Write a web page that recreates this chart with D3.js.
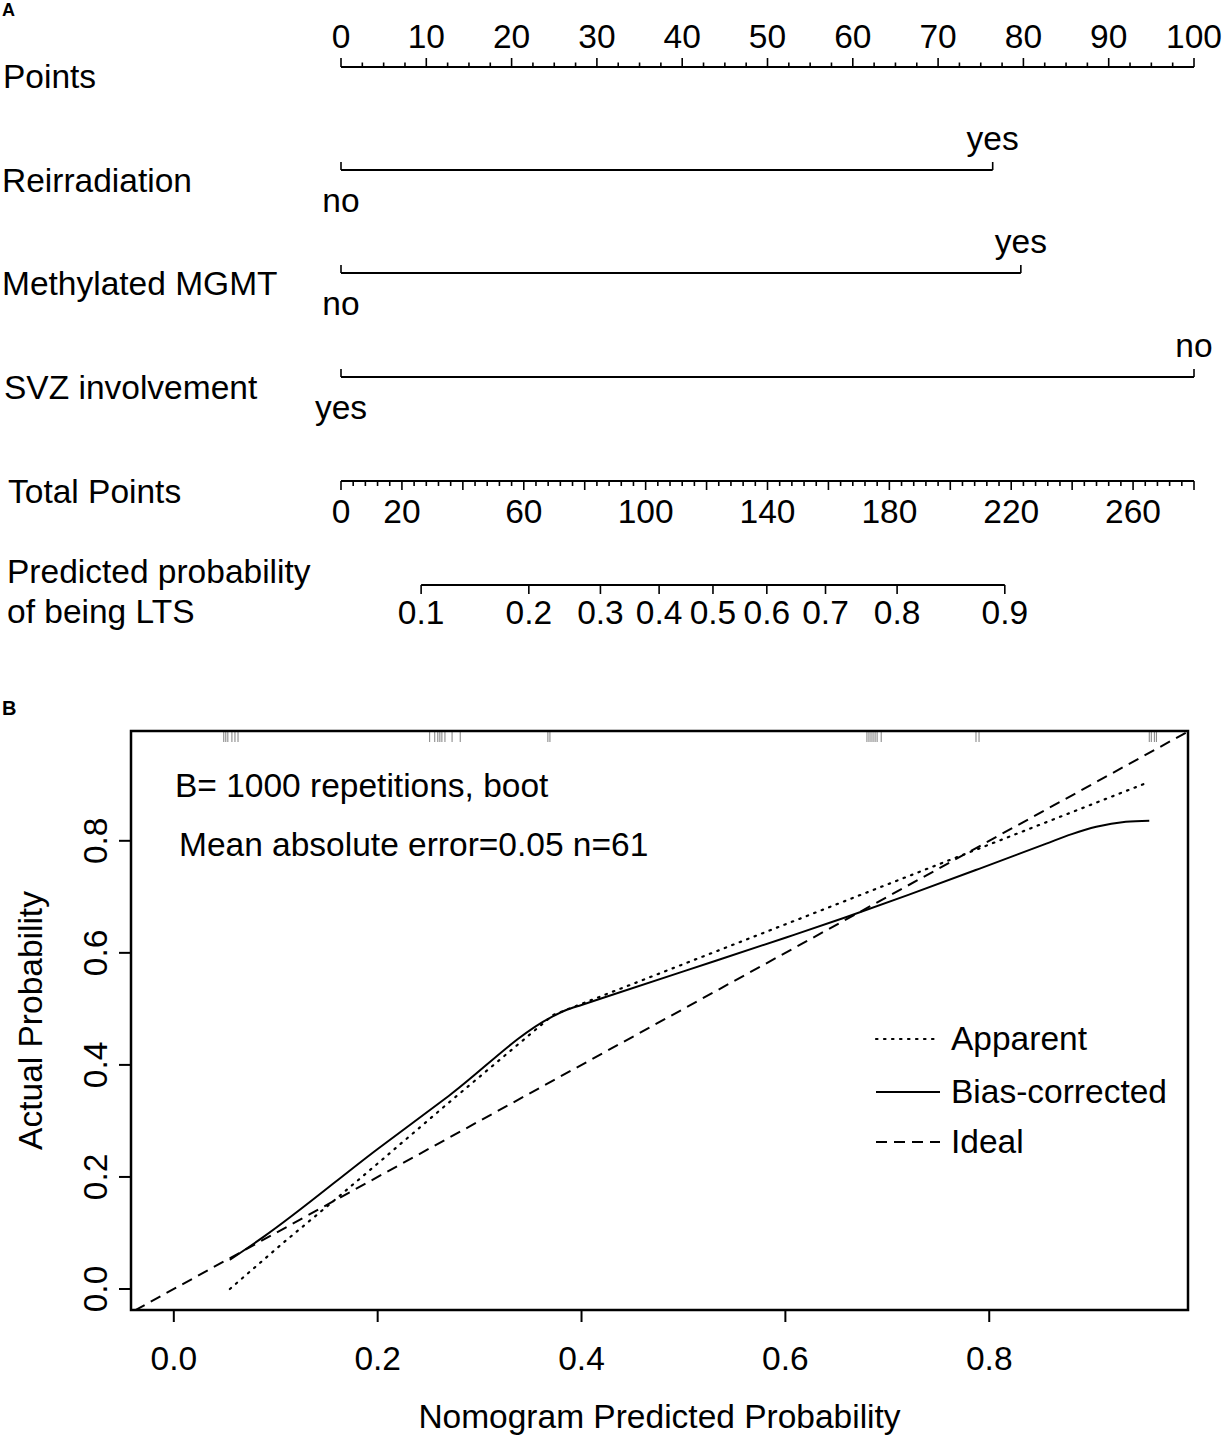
<!DOCTYPE html>
<html>
<head>
<meta charset="utf-8">
<script src="https://cdn.jsdelivr.net/npm/d3@7"></script>
<style>
  body { margin: 0; background: #fff; }
  svg text { font-family: "Liberation Sans", Arial, Helvetica, sans-serif; fill: #000; }
</style>
</head>
<body>
<div id="chart"></div>
<script>
/*** DATA - panel A (nomogram) ***/
var predictors = ["Reirradiation", "Methylated MGMT", "SVZ involvement"];
var levelZero = ["no", "no", "yes"];      // level that gets 0 points
var levelOther = ["yes", "yes", "no"];    // the other level
var levelPoints = [76.4, 79.7, 100];      // points of the other level

var pointsLabels = [0, 10, 20, 30, 40, 50, 60, 70, 80, 90, 100];
var totalLabels = [0, 20, 60, 100, 140, 180, 220, 260];
var totalMax = 280;
var probLabels = [0.1, 0.2, 0.3, 0.4, 0.5, 0.6, 0.7, 0.8, 0.9];
// total points where logit = 0, and points per logit unit
var lpCenter = 122.1;
var lpPerLogit = 43.6;

/*** DATA - panel B (calibration) ***/
var rugPred = [0.049, 0.051, 0.053, 0.057, 0.060, 0.063,
  0.251, 0.256, 0.259, 0.261, 0.263, 0.266, 0.273, 0.281,
  0.367, 0.369,
  0.680, 0.682, 0.684, 0.686, 0.688, 0.690, 0.694,
  0.787, 0.790,
  0.957, 0.959, 0.962, 0.964];

var apparentX = [0.055, 0.107, 0.156, 0.2, 0.27, 0.372, 0.61, 0.954];
var apparentY = [0.0, 0.082, 0.156, 0.224, 0.333, 0.489, 0.658, 0.903];

var biasX = [0.055, 0.088, 0.2, 0.27, 0.37, 0.385, 0.4, 0.5, 0.6, 0.66, 0.72, 0.79, 0.856, 0.881, 0.905, 0.934, 0.957];
var biasY = [0.052, 0.093, 0.25, 0.345, 0.485, 0.498, 0.507, 0.567, 0.627, 0.664, 0.703, 0.750, 0.795, 0.812, 0.825, 0.834, 0.836];

var calTicks = [0, 0.2, 0.4, 0.6, 0.8];
var legendNames = ["Apparent", "Bias-corrected", "Ideal"];
var legendDash = ["1.5,6.5", null, "11,7"];

var width = 1223;
var height = 1438;
var fs = 33.5;

var svg = d3.select('#chart').append('svg')
  .attr('width', width)
  .attr('height', height);

/******* PANEL A *******/
var ptsX = d3.scaleLinear().domain([0, 100]).range([341, 1194]);
var totX = d3.scaleLinear().domain([0, totalMax]).range([341, 1194]);
var logit = function (p) { return Math.log(p / (1 - p)); };
var probX = function (p) { return totX(lpCenter + lpPerLogit * logit(p)); };

var A = svg.append('g');

A.append('text').attr('x', 2).attr('y', 16)
  .style('font-size', '18px').style('font-weight', 'bold').text('A');

// Points axis (ticks up, labels above)
var pY = 67;
A.append('line').attr('x1', ptsX(0)).attr('x2', ptsX(100))
  .attr('y1', pY).attr('y2', pY).attr('stroke', '#000').attr('stroke-width', 2);
A.selectAll('line.pmin')
  .data(d3.range(0, 100.01, 2.5))
  .enter().append('line')
  .attr('class', 'pmin')
  .attr('x1', d => ptsX(d)).attr('x2', d => ptsX(d))
  .attr('y1', pY).attr('y2', d => (d % 10 === 0) ? pY - 9 : pY - 4.5)
  .attr('stroke', '#000').attr('stroke-width', 1.6);
A.selectAll('text.plab')
  .data(pointsLabels)
  .enter().append('text')
  .attr('class', 'plab')
  .attr('x', d => ptsX(d)).attr('y', 48)
  .attr('text-anchor', 'middle')
  .style('font-size', fs + 'px')
  .text(d => d);
A.append('text').attr('x', 3).attr('y', 88).style('font-size', fs + 'px').text('Points');

// predictor rows
var rowY = [170, 273, 377];
predictors.forEach(function (name, i) {
  var y = rowY[i];
  var x0 = ptsX(0), x1 = ptsX(levelPoints[i]);
  A.append('text').attr('x', i === 2 ? 4 : 2).attr('y', y + 22)
    .style('font-size', fs + 'px').text(name);
  A.append('line').attr('x1', x0).attr('x2', x1).attr('y1', y).attr('y2', y)
    .attr('stroke', '#000').attr('stroke-width', 2);
  [x0, x1].forEach(function (x) {
    A.append('line').attr('x1', x).attr('x2', x).attr('y1', y).attr('y2', y - 8)
      .attr('stroke', '#000').attr('stroke-width', 1.6);
  });
  A.append('text').attr('x', x1).attr('y', y - 20)
    .attr('text-anchor', 'middle').style('font-size', fs + 'px').text(levelOther[i]);
  A.append('text').attr('x', x0).attr('y', y + 42)
    .attr('text-anchor', 'middle').style('font-size', fs + 'px').text(levelZero[i]);
});

// Total points axis (ticks down, labels below)
var tY = 481;
A.append('line').attr('x1', totX(0)).attr('x2', totX(totalMax))
  .attr('y1', tY).attr('y2', tY).attr('stroke', '#000').attr('stroke-width', 2);
A.selectAll('line.tmin')
  .data(d3.range(0, totalMax + 0.01, 4))
  .enter().append('line')
  .attr('class', 'tmin')
  .attr('x1', d => totX(d)).attr('x2', d => totX(d))
  .attr('y1', tY).attr('y2', d => (d % 20 === 0) ? tY + 9 : tY + 5)
  .attr('stroke', '#000').attr('stroke-width', 1.6);
A.selectAll('text.tlab')
  .data(totalLabels)
  .enter().append('text')
  .attr('class', 'tlab')
  .attr('x', d => totX(d)).attr('y', 523)
  .attr('text-anchor', 'middle')
  .style('font-size', fs + 'px')
  .text(d => d);
A.append('text').attr('x', 8).attr('y', 503).style('font-size', fs + 'px').text('Total Points');

// predicted probability axis
var prY = 585;
A.append('line').attr('x1', probX(probLabels[0])).attr('x2', probX(probLabels[probLabels.length - 1]))
  .attr('y1', prY).attr('y2', prY).attr('stroke', '#000').attr('stroke-width', 2);
A.selectAll('line.prt')
  .data(probLabels)
  .enter().append('line')
  .attr('class', 'prt')
  .attr('x1', d => probX(d)).attr('x2', d => probX(d))
  .attr('y1', prY).attr('y2', prY + 9)
  .attr('stroke', '#000').attr('stroke-width', 1.6);
A.selectAll('text.prl')
  .data(probLabels)
  .enter().append('text')
  .attr('class', 'prl')
  .attr('x', d => probX(d)).attr('y', 624)
  .attr('text-anchor', 'middle')
  .style('font-size', fs + 'px')
  .text(d => d.toFixed(1));
A.append('text').attr('x', 7).attr('y', 583).style('font-size', fs + 'px').text('Predicted probability');
A.append('text').attr('x', 7).attr('y', 623).style('font-size', fs + 'px').text('of being LTS');

/******* PANEL B *******/
var B = svg.append('g');
B.append('text').attr('x', 2).attr('y', 715)
  .style('font-size', '20px').style('font-weight', 'bold').text('B');

var L = 131, R = 1188, T = 731, Bt = 1310;
var xS = d3.scaleLinear().domain([-0.042, 0.995]).range([L, R]);
var yS = d3.scaleLinear().domain([-0.0375, 0.996]).range([Bt, T]);

svg.append('defs').append('clipPath').attr('id', 'clip')
  .append('rect').attr('x', L).attr('y', T).attr('width', R - L).attr('height', Bt - T);

var plot = B.append('g').attr('clip-path', 'url(#clip)');

// rug of predicted values
plot.selectAll('line.rug')
  .data(rugPred)
  .enter().append('line')
  .attr('class', 'rug')
  .attr('x1', d => xS(d)).attr('x2', d => xS(d))
  .attr('y1', T).attr('y2', T + 11)
  .attr('stroke', '#808080').attr('stroke-width', 1);

var line = d3.line().x(d => xS(d[0])).y(d => yS(d[1]));

// ideal
plot.append('path')
  .attr('d', line([[-0.1, -0.1], [1.1, 1.1]]))
  .attr('fill', 'none').attr('stroke', '#000').attr('stroke-width', 2)
  .attr('stroke-dasharray', legendDash[2]);

// apparent
plot.append('path')
  .attr('d', line(d3.zip(apparentX, apparentY)))
  .attr('fill', 'none').attr('stroke', '#000').attr('stroke-width', 2.2)
  .attr('stroke-linecap', 'round')
  .attr('stroke-dasharray', legendDash[0]);

// bias-corrected
plot.append('path')
  .attr('d', d3.line().x(d => xS(d[0])).y(d => yS(d[1])).curve(d3.curveMonotoneX)(d3.zip(biasX, biasY)))
  .attr('fill', 'none').attr('stroke', '#000').attr('stroke-width', 2);

// box
B.append('rect').attr('x', L).attr('y', T).attr('width', R - L).attr('height', Bt - T)
  .attr('fill', 'none').attr('stroke', '#000').attr('stroke-width', 2.5);

// x axis
B.selectAll('line.xt')
  .data(calTicks)
  .enter().append('line')
  .attr('class', 'xt')
  .attr('x1', d => xS(d)).attr('x2', d => xS(d))
  .attr('y1', Bt).attr('y2', Bt + 12)
  .attr('stroke', '#000').attr('stroke-width', 2);
B.selectAll('text.xl')
  .data(calTicks)
  .enter().append('text')
  .attr('class', 'xl')
  .attr('x', d => xS(d)).attr('y', 1370)
  .attr('text-anchor', 'middle')
  .style('font-size', fs + 'px')
  .text(d => d.toFixed(1));

// y axis
B.selectAll('line.yt')
  .data(calTicks)
  .enter().append('line')
  .attr('class', 'yt')
  .attr('x1', L).attr('x2', L - 12)
  .attr('y1', d => yS(d)).attr('y2', d => yS(d))
  .attr('stroke', '#000').attr('stroke-width', 2);
B.selectAll('text.yl')
  .data(calTicks)
  .enter().append('text')
  .attr('class', 'yl')
  .attr('transform', d => 'translate(107,' + yS(d) + ') rotate(-90)')
  .attr('text-anchor', 'middle')
  .style('font-size', fs + 'px')
  .text(d => d.toFixed(1));

B.append('text')
  .attr('x', (L + R) / 2).attr('y', 1428)
  .attr('text-anchor', 'middle').style('font-size', fs + 'px')
  .text('Nomogram Predicted Probability');
B.append('text')
  .attr('transform', 'translate(42,' + ((T + Bt) / 2) + ') rotate(-90)')
  .attr('text-anchor', 'middle').style('font-size', fs + 'px')
  .text('Actual Probability');

B.append('text').attr('x', 175).attr('y', 797).style('font-size', fs + 'px')
  .text('B= 1000 repetitions, boot');
B.append('text').attr('x', 179).attr('y', 856).style('font-size', fs + 'px')
  .text('Mean absolute error=0.05 n=61');

// legend
var legY = [1039, 1092, 1142];
legendNames.forEach(function (nm, i) {
  var ln = B.append('line').attr('x1', 876).attr('x2', 940)
    .attr('y1', legY[i]).attr('y2', legY[i])
    .attr('stroke', '#000').attr('stroke-width', 2);
  if (legendDash[i]) ln.attr('stroke-dasharray', legendDash[i]);
  if (i === 0) ln.attr('stroke-linecap', 'round').attr('stroke-width', 2.2);
  B.append('text').attr('x', 951).attr('y', legY[i] + 11)
    .style('font-size', fs + 'px').text(nm);
});
</script>
</body>
</html>
